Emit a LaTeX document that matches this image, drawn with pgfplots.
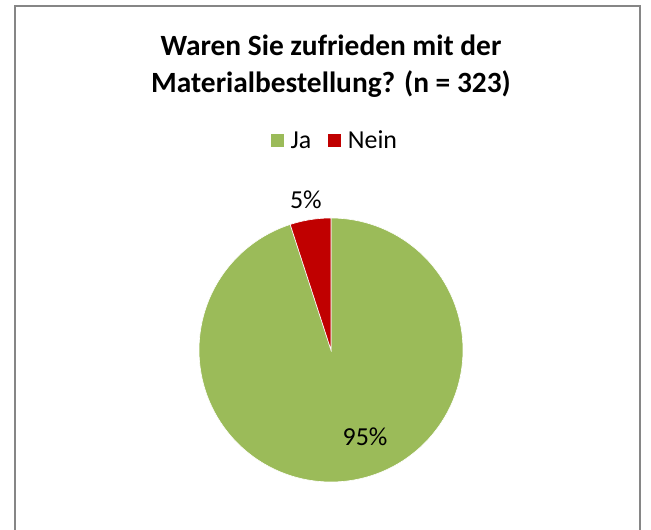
\documentclass[border=0pt]{standalone}
\usepackage{pgfplots}
\pgfplotsset{compat=1.18}
\usepackage{fontspec}
\setmainfont{Carlito}
\definecolor{pieGreen}{HTML}{9BBB59}
\definecolor{pieRed}{HTML}{C00000}
\definecolor{frameGray}{HTML}{868686}
\begin{document}
\begin{tikzpicture}
\useasboundingbox (0bp,0bp) rectangle (651bp,530bp);
\draw[frameGray, line width=1.5bp] (15bp,-10bp) -- (15bp,524bp) -- (640bp,524bp) -- (640bp,-10bp);
\node[font=\fontsize{29.5}{37}\selectfont\bfseries, align=center] at (331bp,464bp) {Waren Sie zufrieden mit der\\Materialbestellung? (n = 323)};
% data: Ja 95, Nein 5 (percent)
\pgfmathsetmacro{\valJa}{95}
\pgfmathsetmacro{\valNein}{5}
\pgfmathsetmacro{\aStart}{90+360*\valNein/100}
\pgfmathsetmacro{\aEnd}{450}
\begin{axis}[
  at={(331bp,180bp)}, anchor=center,
  scale only axis, width=264bp, height=264bp,
  xmin=-1, xmax=1, ymin=-1, ymax=1,
  hide axis, clip=false,
  legend columns=2,
  legend style={draw=none, fill=none, at={(0.521,1.293)}, anchor=center,
    font=\fontsize{26}{30}\selectfont,
    nodes={font=\fontsize{26}{30}\selectfont, inner xsep=6bp},
    /tikz/every even column/.append style={column sep=10bp}},
  legend image code/.code={\fill[#1] (0bp,-7bp) rectangle (14bp,7bp);},
]
\addplot[fill=pieGreen, draw=white, line width=0.6bp, domain=\aStart:\aEnd, samples=180] ({cos(x)},{sin(x)}) -- (0,0) -- cycle;
\addlegendentry{Ja}
\addplot[fill=pieRed, draw=white, line width=0.6bp, domain=90:\aStart, samples=20] ({cos(x)},{sin(x)}) -- (0,0) -- cycle;
\addlegendentry{Nein}
\node[font=\fontsize{26}{30}\selectfont] at (axis cs:-0.19,1.136) {5\%};
\node[font=\fontsize{26}{30}\selectfont] at (axis cs:0.258,-0.659) {95\%};
\end{axis}
\end{tikzpicture}
\end{document}
